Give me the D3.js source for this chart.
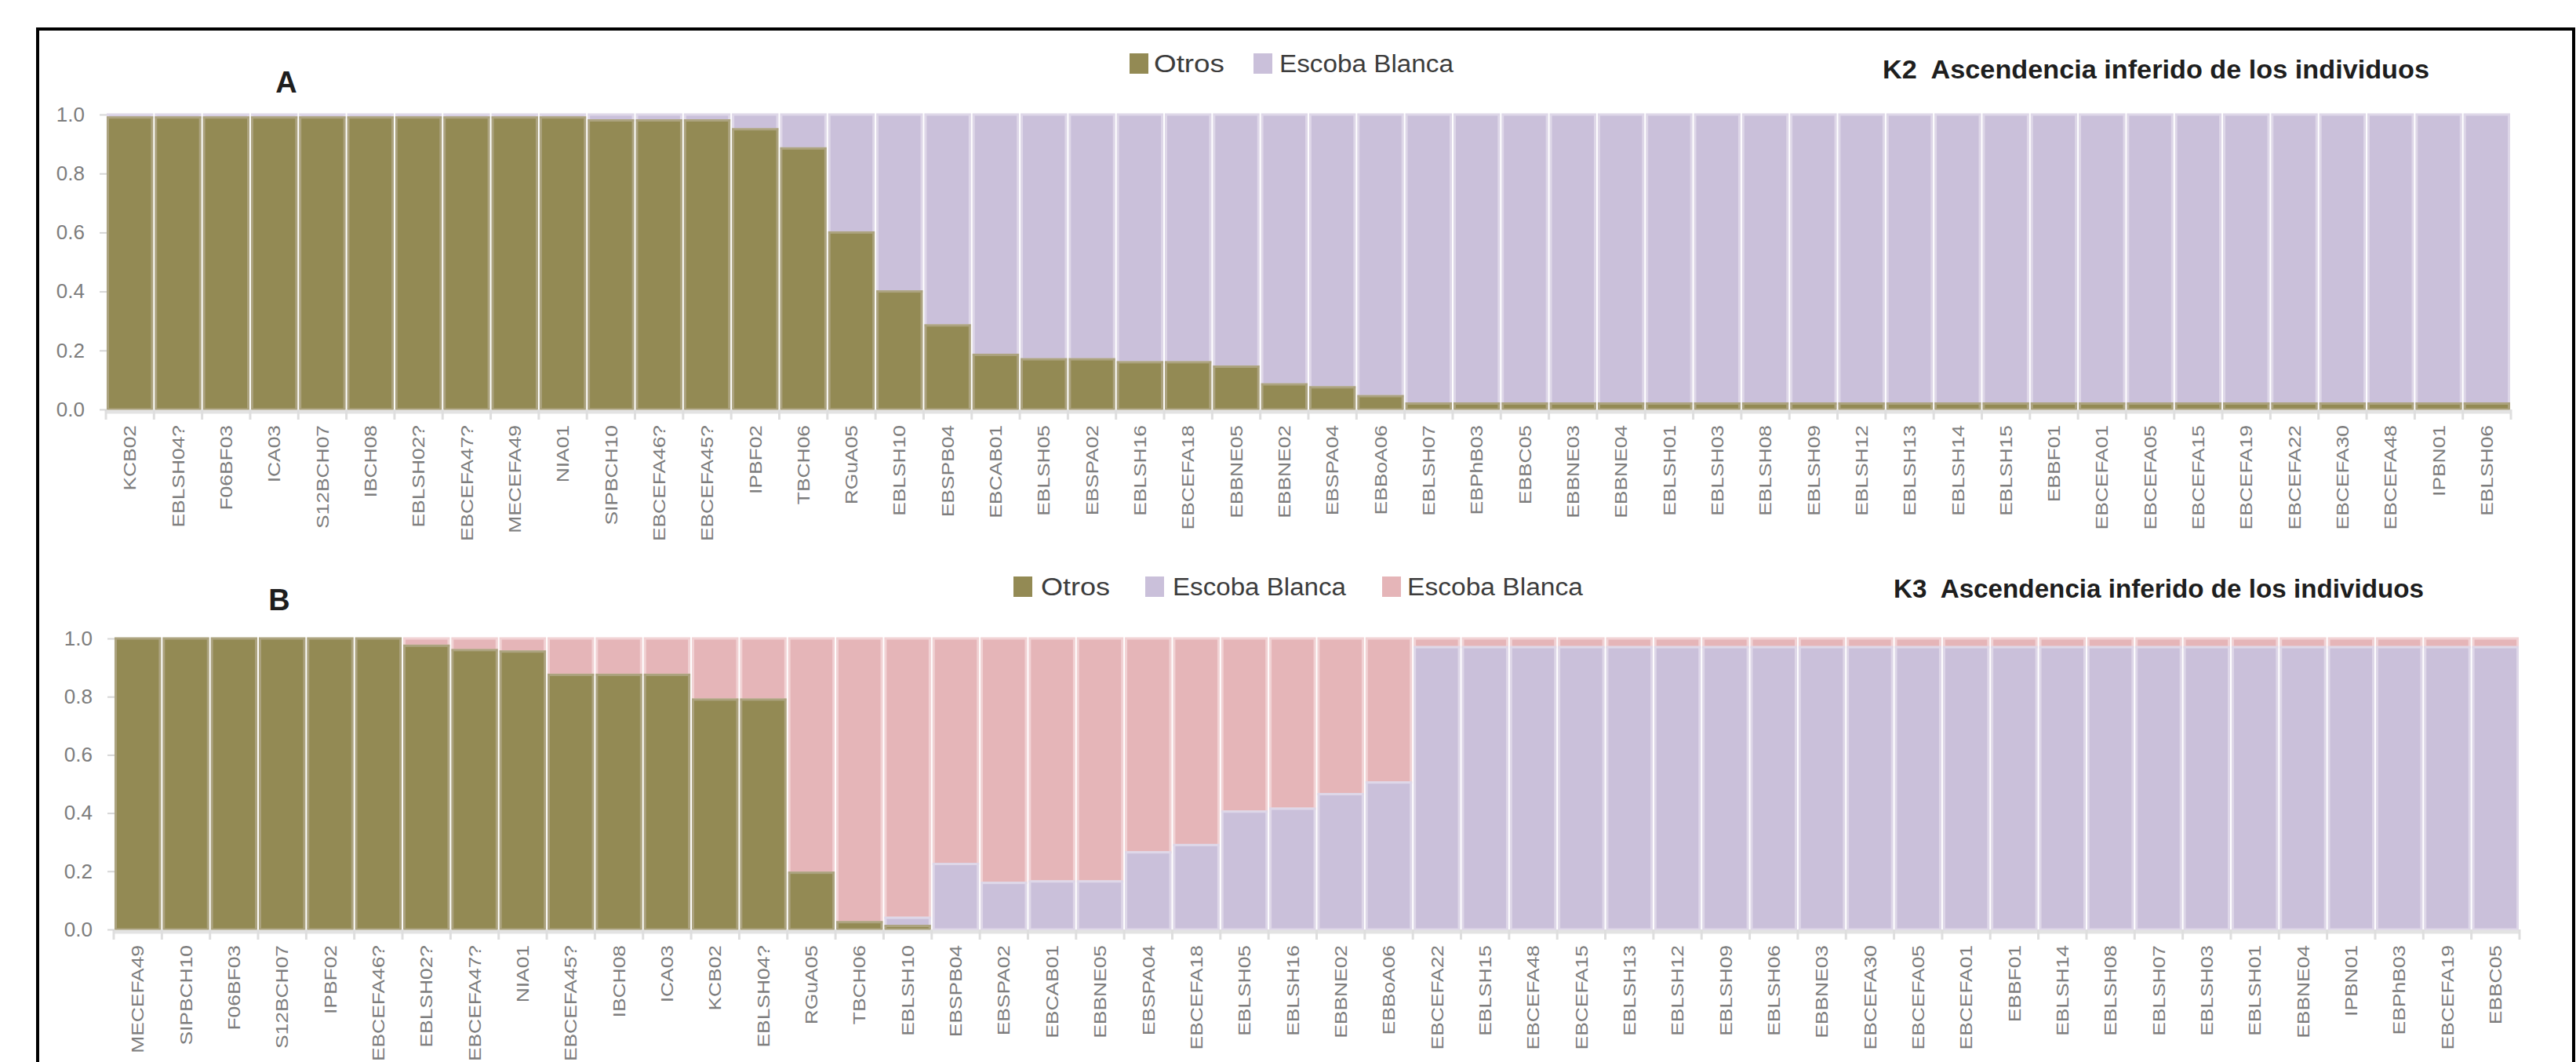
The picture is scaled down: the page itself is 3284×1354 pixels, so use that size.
<!DOCTYPE html>
<html>
<head>
<meta charset="utf-8">
<script src="https://cdn.jsdelivr.net/npm/d3@7"></script>
<style>
  html, body { margin: 0; padding: 0; background: #fff; }
  svg { display: block; }
  text { font-family: "Liberation Sans", Arial, sans-serif; }
</style>
</head>
<body>
<svg id="chart" width="3284" height="1354"></svg>
<script>
// ---- K2 run: individuals ordered by "Otros" ancestry ----
const namesA = ["KCB02","EBLSH04?","F06BF03","ICA03","S12BCH07","IBCH08","EBLSH02?","EBCEFA47?","MECEFA49","NIA01",
  "SIPBCH10","EBCEFA46?","EBCEFA45?","IPBF02","TBCH06","RGuA05","EBLSH10","EBSPB04","EBCAB01","EBLSH05",
  "EBSPA02","EBLSH16","EBCEFA18","EBBNE05","EBBNE02","EBSPA04","EBBoA06","EBLSH07","EBPhB03","EBBC05",
  "EBBNE03","EBBNE04","EBLSH01","EBLSH03","EBLSH08","EBLSH09","EBLSH12","EBLSH13","EBLSH14","EBLSH15",
  "EBBF01","EBCEFA01","EBCEFA05","EBCEFA15","EBCEFA19","EBCEFA22","EBCEFA30","EBCEFA48","IPBN01","EBLSH06"];
const otrosA = [0.99,0.99,0.99,0.99,0.99,0.99,0.99,0.99,0.99,0.99,
  0.98,0.98,0.98,0.95,0.885,0.60,0.40,0.285,0.185,0.17,
  0.17,0.16,0.16,0.145,0.085,0.075,0.045,0.02,0.02,0.02,
  0.02,0.02,0.02,0.02,0.02,0.02,0.02,0.02,0.02,0.02,
  0.02,0.02,0.02,0.02,0.02,0.02,0.02,0.02,0.02,0.02];
const escobaA = [0.01,0.01,0.01,0.01,0.01,0.01,0.01,0.01,0.01,0.01,
  0.02,0.02,0.02,0.05,0.115,0.40,0.60,0.715,0.815,0.83,
  0.83,0.84,0.84,0.855,0.915,0.925,0.955,0.98,0.98,0.98,
  0.98,0.98,0.98,0.98,0.98,0.98,0.98,0.98,0.98,0.98,
  0.98,0.98,0.98,0.98,0.98,0.98,0.98,0.98,0.98,0.98];

// ---- K3 run ----
const namesB = ["MECEFA49","SIPBCH10","F06BF03","S12BCH07","IPBF02","EBCEFA46?","EBLSH02?","EBCEFA47?","NIA01","EBCEFA45?",
  "IBCH08","ICA03","KCB02","EBLSH04?","RGuA05","TBCH06","EBLSH10","EBSPB04","EBSPA02","EBCAB01",
  "EBBNE05","EBSPA04","EBCEFA18","EBLSH05","EBLSH16","EBBNE02","EBBoA06","EBCEFA22","EBLSH15","EBCEFA48",
  "EBCEFA15","EBLSH13","EBLSH12","EBLSH09","EBLSH06","EBBNE03","EBCEFA30","EBCEFA05","EBCEFA01","EBBF01",
  "EBLSH14","EBLSH08","EBLSH07","EBLSH03","EBLSH01","EBBNE04","IPBN01","EBPhB03","EBCEFA19","EBBC05"];
const otrosB = [1.0,1.0,1.0,1.0,1.0,1.0,0.975,0.96,0.955,0.875,
  0.875,0.875,0.79,0.79,0.195,0.025,0.012,0,0,0,
  0,0,0,0,0,0,0,0,0,0,
  0,0,0,0,0,0,0,0,0,0,
  0,0,0,0,0,0,0,0,0,0];
const escobaB = [0,0,0,0,0,0,0,0,0,0,
  0,0,0,0,0,0,0.028,0.225,0.16,0.165,
  0.165,0.265,0.29,0.405,0.415,0.465,0.505,0.97,0.97,0.97,
  0.97,0.97,0.97,0.97,0.97,0.97,0.97,0.97,0.97,0.97,
  0.97,0.97,0.97,0.97,0.97,0.97,0.97,0.97,0.97,0.97];
const escobaB2 = [0,0,0,0,0,0,0.025,0.04,0.045,0.125,
  0.125,0.125,0.21,0.21,0.805,0.975,0.96,0.775,0.84,0.835,
  0.835,0.735,0.71,0.595,0.585,0.535,0.495,0.03,0.03,0.03,
  0.03,0.03,0.03,0.03,0.03,0.03,0.03,0.03,0.03,0.03,
  0.03,0.03,0.03,0.03,0.03,0.03,0.03,0.03,0.03,0.03];

const yTickValues = [0, 0.2, 0.4, 0.6, 0.8, 1.0];
const legendLabelsA = ["Otros", "Escoba Blanca"];
const legendLabelsB = ["Otros", "Escoba Blanca", "Escoba Blanca"];
const titleA = "K2  Ascendencia inferido de los individuos";
const titleB = "K3  Ascendencia inferido de los individuos";

const colours = {
  otros:   { fill: "#938a54", edge: "#aca37f" },
  escoba:  { fill: "#cac0da", edge: "#ded7e8" },
  escoba2: { fill: "#e5b5b8", edge: "#f1d2d4" }
};

const svg = d3.select("#chart");

// outer frame
svg.append("path")
  .attr("d", "M48,1360 L48,37 L3281,37 L3281,1360")
  .attr("fill", "none").attr("stroke", "#000").attr("stroke-width", 4);

function drawPanel(cfg) {
  const g = svg.append("g");
  const rows = cfg.names.map((n, i) => {
    const r = { name: n };
    cfg.keys.forEach((k, j) => { r[k] = cfg.series[j][i]; });
    return r;
  });
  const stacked = d3.stack().keys(cfg.keys)(rows);

  const x = d3.scaleBand().domain(cfg.names).range(cfg.xRange)
    .paddingInner(0.08).paddingOuter(0.04);
  const y = d3.scaleLinear().domain([0, 1]).range([cfg.yBottom, cfg.yTop]);

  // stacked bars, upper layers first so lower edges sit on top
  stacked.slice().reverse().forEach(layer => {
    const c = colours[layer.key];
    g.append("g").selectAll("rect")
      .data(layer.filter(d => d[1] - d[0] > 0))
      .join("rect")
      .attr("x", d => x(d.data.name))
      .attr("width", x.bandwidth())
      .attr("y", d => y(d[1]))
      .attr("height", d => y(d[0]) - y(d[1]))
      .attr("fill", c.fill)
      .attr("stroke", c.edge)
      .attr("stroke-width", 3);
  });

  // category axis: light baseline, boundary ticks, rotated labels
  const step = x.step();
  const bounds = cfg.names.map(n => x(n) - step * x.paddingInner() / 2)
    .concat([x(cfg.names[cfg.names.length - 1]) + x.bandwidth() + step * x.paddingInner() / 2]);
  g.append("line")
    .attr("x1", bounds[0]).attr("x2", bounds[bounds.length - 1])
    .attr("y1", cfg.yBottom + 3).attr("y2", cfg.yBottom + 3)
    .attr("stroke", "#e3e3e3").attr("stroke-width", 5);
  g.append("g").selectAll("line").data(bounds).join("line")
    .attr("x1", d => d).attr("x2", d => d)
    .attr("y1", cfg.yBottom).attr("y2", cfg.yBottom + 13)
    .attr("stroke", "#dedede").attr("stroke-width", 3);

  const xAxis = g.append("g")
    .attr("transform", `translate(0,${cfg.yBottom})`)
    .call(d3.axisBottom(x).tickSize(0).tickPadding(0));
  xAxis.select(".domain").remove();
  xAxis.selectAll("text")
    .attr("x", 0).attr("y", 0).attr("dy", "0.35em")
    .attr("text-anchor", "end")
    .attr("transform", "translate(0,20) rotate(-90) scale(1.2,1)")
    .attr("font-size", 22)
    .attr("fill", "#7d7d7d")
    .attr("font-family", "Liberation Sans, Arial, sans-serif");

  // value axis
  const yAxis = g.append("g")
    .attr("transform", `translate(${cfg.xRange[0] + 1},0)`)
    .call(d3.axisLeft(y).tickValues(yTickValues).tickFormat(d3.format(".1f"))
      .tickSize(9).tickPadding(19));
  yAxis.select(".domain").remove();
  yAxis.selectAll(".tick line").attr("stroke", "#d6d6d6").attr("stroke-width", 2);
  yAxis.selectAll("text")
    .attr("font-size", 26).attr("fill", "#7d7d7d")
    .attr("font-family", "Liberation Sans, Arial, sans-serif");

  // panel letter
  g.append("text")
    .attr("x", cfg.letterX).attr("y", cfg.letterY)
    .attr("text-anchor", "middle").attr("dominant-baseline", "central")
    .attr("font-size", 38).attr("font-weight", "bold").attr("fill", "#1e1e1e")
    .text(cfg.letter);

  // legend
  const leg = g.append("g");
  cfg.legend.forEach((item, i) => {
    leg.append("rect")
      .attr("x", item.sx).attr("y", cfg.legendY - 13)
      .attr("width", 24).attr("height", 26)
      .attr("fill", colours[cfg.keys[i]].fill);
    leg.append("text")
      .attr("x", item.tx).attr("y", cfg.legendY)
      .attr("dominant-baseline", "central")
      .attr("font-size", 31).attr("fill", "#3c3c3c")
      .attr("textLength", item.w).attr("lengthAdjust", "spacingAndGlyphs")
      .text(cfg.legendLabels[i]);
  });

  // title
  g.append("text")
    .attr("x", cfg.titleX).attr("y", cfg.titleY)
    .attr("dominant-baseline", "central")
    .attr("font-size", 33).attr("font-weight", "bold").attr("fill", "#1e1e1e")
    .attr("textLength", cfg.titleW).attr("lengthAdjust", "spacingAndGlyphs")
    .style("white-space", "pre")
    .text(cfg.title);
}

drawPanel({
  names: namesA,
  keys: ["otros", "escoba"],
  series: [otrosA, escobaA],
  xRange: [135, 3201],
  yTop: 146, yBottom: 522,
  letter: "A", letterX: 365, letterY: 105,
  legendLabels: legendLabelsA,
  legendY: 81,
  legend: [ { sx: 1440, tx: 1471, w: 90 }, { sx: 1598, tx: 1631, w: 222 } ],
  title: titleA, titleX: 2400, titleY: 88, titleW: 697
});

drawPanel({
  names: namesB,
  keys: ["otros", "escoba", "escoba2"],
  series: [otrosB, escobaB, escobaB2],
  xRange: [145, 3212],
  yTop: 814, yBottom: 1185,
  letter: "B", letterX: 356, letterY: 765,
  legendLabels: legendLabelsB,
  legendY: 748,
  legend: [ { sx: 1292, tx: 1327, w: 88 }, { sx: 1460, tx: 1495, w: 221 }, { sx: 1762, tx: 1794, w: 224 } ],
  title: titleB, titleX: 2414, titleY: 750, titleW: 676
});
</script>
</body>
</html>
